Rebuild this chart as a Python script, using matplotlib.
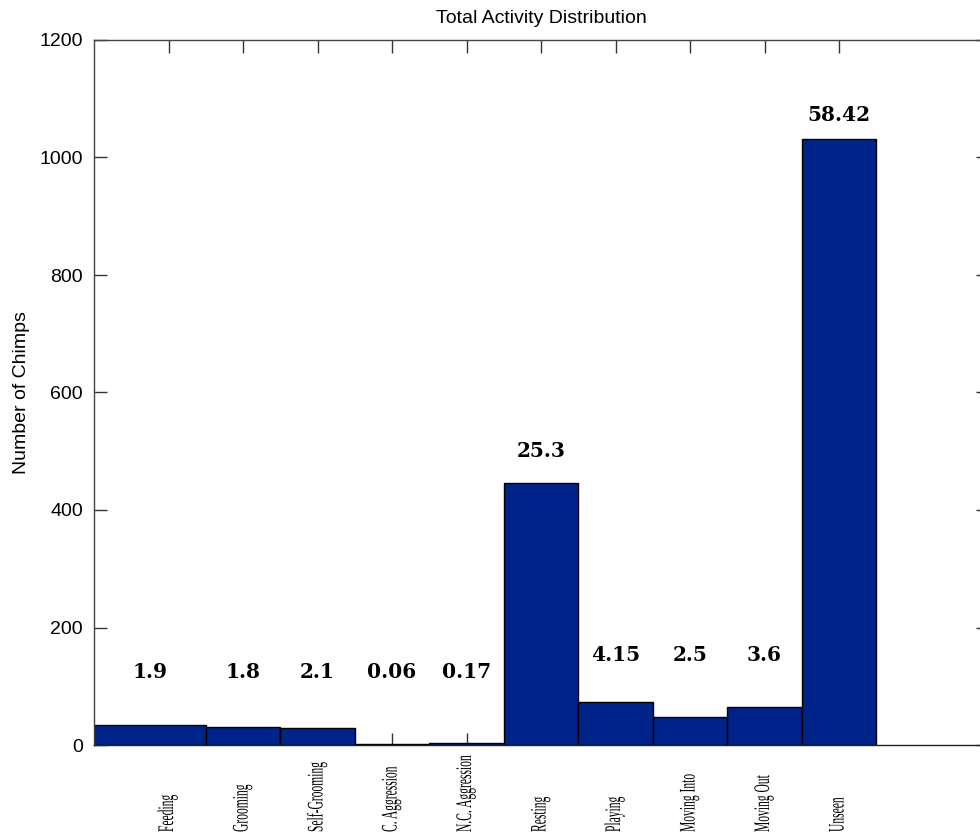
import numpy as np
import matplotlib
matplotlib.use("Agg")
import matplotlib.pyplot as plt
from matplotlib.patheffects import AbstractPathEffect
from matplotlib.transforms import Affine2D

# activity data (counts, % shown above bars)
activities = ['Feeding', 'Grooming', 'Self-Grooming', 'C. Aggression', 'N.C. Aggression',
              'Resting', 'Playing', 'Moving Into', 'Moving Out', 'Unseen']
counts = [34, 31, 29, 1, 3, 446, 73, 47, 65, 1031]
percents = ['1.9', '1.8', '2.1', '0.06', '0.17', '25.3', '4.15', '2.5', '3.6', '58.42']
label_heights = [125, 125, 125, 125, 125, 500, 153, 153, 153, 1073]


# squeezes text along its baseline, the tick labels look very condensed
class Squeeze(AbstractPathEffect):
    def __init__(self, sx):
        super().__init__()
        self.sx = sx

    def draw_path(self, renderer, gc, tpath, affine, rgbFace=None):
        renderer.draw_path(gc, tpath, Affine2D().scale(self.sx, 1) + affine, rgbFace)


plt.rcParams['font.family'] = ['Liberation Sans', 'DejaVu Sans']

fig = plt.figure(figsize=(9.8, 8.38), dpi=100)
ax = fig.add_axes([94 / 980, 93 / 838, 894 / 980, 705 / 838])

# first bar runs from the axis edge, the rest are one unit wide
edges = np.r_[0, np.arange(1.5, len(counts) + 1)]
widths = np.diff(edges)
ax.bar(edges[:-1], counts, width=widths, align='edge', color='#00238a',
       edgecolor='black', linewidth=1.0)

centers = edges[:-1] + widths / 2
for xc, yl, p in zip(centers, label_heights, percents):
    ax.text(xc, yl, p, ha='center', va='center', fontsize=14.5,
            fontweight='bold', family='DejaVu Serif')

ax.set_xlim(0, 12)
ax.set_ylim(0, 1200)
ax.set_yticks(np.arange(0, 1201, 200))
ax.set_xticks(np.arange(1, len(activities) + 1))
ax.set_xticklabels([])
ax.set_axisbelow(True)
ax.tick_params(direction='in', length=9, width=1, top=True, right=True,
               labelsize=14, pad=8, colors='#333333', labelcolor='black')
for s in ax.spines.values():
    s.set_color('#444444')
    s.set_linewidth(1.0)
ax.spines['bottom'].set_color('#222222')

for i, name in enumerate(activities):
    ax.text(i + 1, -0.1234, name, transform=ax.get_xaxis_transform(),
            rotation=90, ha='center', va='bottom', fontsize=16,
            family='Liberation Serif', path_effects=[Squeeze(0.52)])

ax.set_ylabel('Number of Chimps', fontsize=14, labelpad=7)
ax.set_title('Total Activity Distribution', fontsize=14, pad=12)

fig.savefig('out.png', dpi=100)
